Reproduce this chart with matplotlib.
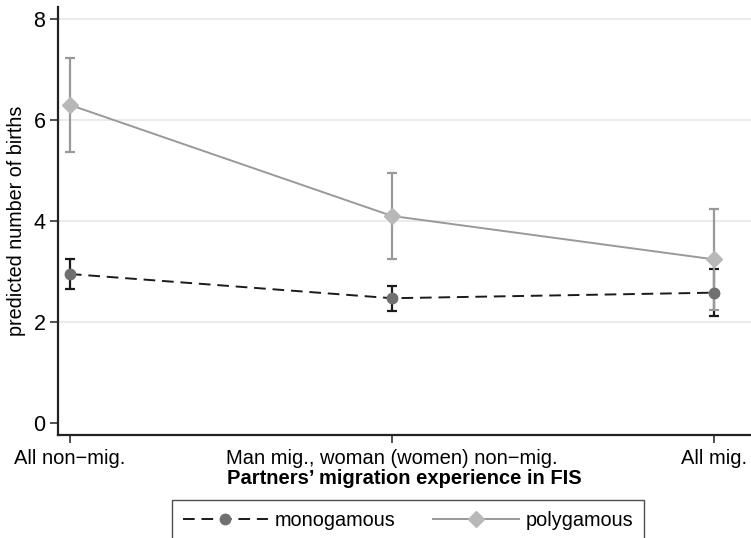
import matplotlib
matplotlib.use("Agg")
import matplotlib.pyplot as plt
import numpy as np

plt.rcParams['font.family'] = ['Liberation Sans', 'DejaVu Sans']

categories = ["All non\u2212mig.", "Man mig., woman (women) non\u2212mig.", "All mig."]
mono = [2.95, 2.47, 2.58]
mono_lo = [2.65, 2.22, 2.11]
mono_hi = [3.25, 2.71, 3.05]
poly = [6.30, 4.10, 3.24]
poly_lo = [5.37, 3.25, 2.24]
poly_hi = [7.23, 4.95, 4.24]
yticks = [0, 2, 4, 6, 8]

fig = plt.figure(figsize=(7.51, 5.38), dpi=100)
ax = fig.add_axes([58/751, 1-435/538, 1-58/751, (435-7)/538])

x = np.arange(len(categories))
for yv in [2, 4, 6, 8]:
    ax.axhline(yv, color='#e8e8e8', lw=1.2, zorder=0)

# CIs
ax.errorbar(x, mono, yerr=[np.array(mono)-np.array(mono_lo), np.array(mono_hi)-np.array(mono)],
            fmt='none', ecolor='#1a1a1a', elinewidth=1.6, capsize=3.6, capthick=1.6, zorder=2)
ax.errorbar(x, poly, yerr=[np.array(poly)-np.array(poly_lo), np.array(poly_hi)-np.array(poly)],
            fmt='none', ecolor='#999999', elinewidth=1.6, capsize=3.6, capthick=1.6, zorder=3)

l1, = ax.plot(x, mono, color='#1a1a1a', lw=1.4, dashes=(6, 3.5), marker='o', ms=7.5,
              mfc='#707070', mec='#707070', zorder=4, label='monogamous')
l2, = ax.plot(x, poly, color='#999999', lw=1.4, marker='D', ms=8,
              mfc='#b8b8b8', mec='#b8b8b8', zorder=5, label='polygamous')

ax.set_xlim(-0.037, 2.115)
ax.set_ylim(-0.24, 8.24)
ax.set_yticks(yticks)
ax.set_yticklabels([str(v) for v in yticks], fontsize=15.5)
ax.set_xticks(x)
ax.set_xticklabels(categories, fontsize=14.5)
ax.tick_params(axis='both', direction='out', length=6, width=1.2, color='#333333')
ax.tick_params(axis='x', pad=4)
ax.tick_params(axis='y', pad=3)
for s in ['top', 'right']:
    ax.spines[s].set_visible(False)
for s in ['left', 'bottom']:
    ax.spines[s].set_linewidth(1.6)
    ax.spines[s].set_color('#222222')

ax.set_ylabel("predicted number of births", fontsize=14.2, labelpad=5)
ax.set_xlabel("Partners\u2019 migration experience in FIS", fontsize=14.5, fontweight='bold', labelpad=1)

leg = fig.legend(handles=[l1, l2], loc='upper center', bbox_to_anchor=(408/751, 1-500/538),
                 ncol=2, fontsize=14.3, frameon=True, fancybox=False, handlelength=4.3,
                 columnspacing=1.9, borderpad=0.55, handletextpad=0.35, borderaxespad=0)
leg.get_frame().set_edgecolor('#222222')
leg.get_frame().set_linewidth(1.0)

fig.savefig("out.png", dpi=100)
